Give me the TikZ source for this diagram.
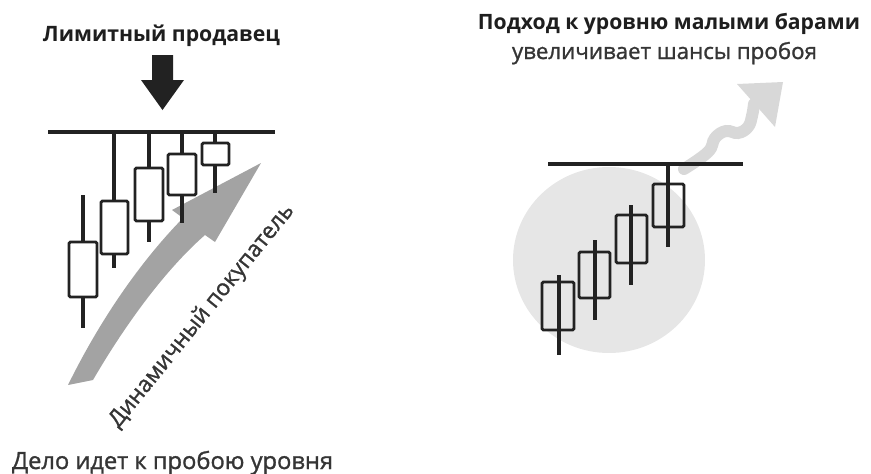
\documentclass[tikz,border=0pt]{standalone}
\usepackage{fontspec}
\setmainfont{Open Sans}
\newfontfamily\medfont{Open Sans}[FakeBold=1.2]
\usepackage{graphicx}
\definecolor{ink}{HTML}{222222}
\definecolor{txt}{HTML}{1E1E1E}
\definecolor{arrowgray}{HTML}{A3A3A3}
\definecolor{circlegray}{HTML}{E6E6E6}
\definecolor{wavegray}{HTML}{D8D8D8}
\tikzset{
  levelline/.style={line width=3.2pt, draw=ink},
  wick/.style={line width=3.2pt, draw=ink},
  cbody/.style={line width=2.9pt, draw=ink, rounded corners=1.4pt},
  titletext/.style={text=txt, inner sep=0pt, font=\bfseries},
  plaintext/.style={text=txt!90, inner sep=0pt, font=\medfont},
}
\newcommand\mycandle[8]{%
  \draw[wick] (#1,#2) -- (#1,#3);
  \draw[cbody,#8] (#4,#5) rectangle (#6,#7);}
\begin{document}
\begin{tikzpicture}[x=1pt,y=-1pt]
\useasboundingbox (0,0) rectangle (871,474);
% ---------- left panel ----------
\node[titletext, anchor=base] (lefttitle) at (161.5,41.5) {\resizebox{237pt}{!}{Лимитный продавец}};
\fill[ink] (152,55) -- (173,55) -- (173,80) -- (184,80) -- (162.5,110) -- (141,80) -- (152,80) -- cycle;
\draw[levelline] (48,132) -- (275,132);
% gray curved arrow
\fill[arrowgray] (68,385) .. controls (100,320) and (140,262) .. (183,218)
  -- (172,210) -- (261,163) -- (215,242) -- (205,235)
  .. controls (165,270) and (125,325) .. (93,380) -- cycle;
\mycandle{83}{195}{328}{69}{242}{97}{297}{fill=white}
\mycandle{114}{132}{268}{101}{201}{128}{254}{fill=white}
\mycandle{149}{132}{242}{135}{168}{163}{221}{fill=white}
\mycandle{182}{132}{223}{168}{154}{196}{195}{fill=white}
\mycandle{215}{132}{193}{202}{143}{229}{165}{fill=white}
\node[plaintext, rotate=51] (buyer) at (202,316) {\resizebox{280pt}{!}{Динамичный покупатель}};
\node[plaintext, anchor=base] (bottomtext) at (172.5,469) {\resizebox{321pt}{!}{Дело идет к пробою уровня}};
% ---------- right panel ----------
\node[titletext, anchor=base] (righttitle) at (669,29.5) {\resizebox{382pt}{!}{Подход к уровню малыми барами}};
\node[plaintext, anchor=base] (rightsub) at (664.5,59) {\resizebox{305pt}{!}{увеличивает шансы пробоя}};
\fill[circlegray] (609,260) ellipse [x radius=96, y radius=93];
% wavy arrow
\draw[wavegray, line width=12pt, line cap=round] plot[smooth, tension=0.7] coordinates
  {(684,169) (708,152) (715,138) (726,131) (738,133) (748,127) (752,116) (754,104)};
\fill[wavegray] (737,84) -- (783,82) -- (775,127) -- cycle;
\draw[levelline] (548,164) -- (743,164);
\mycandle{559}{275}{355}{542}{282}{574}{330}{}
\mycandle{595}{240}{320}{579}{252}{610}{298}{}
\mycandle{631}{205}{285}{616}{215}{647}{263}{}
\mycandle{668}{164}{247}{653}{184}{684}{227}{}
\end{tikzpicture}
\end{document}
